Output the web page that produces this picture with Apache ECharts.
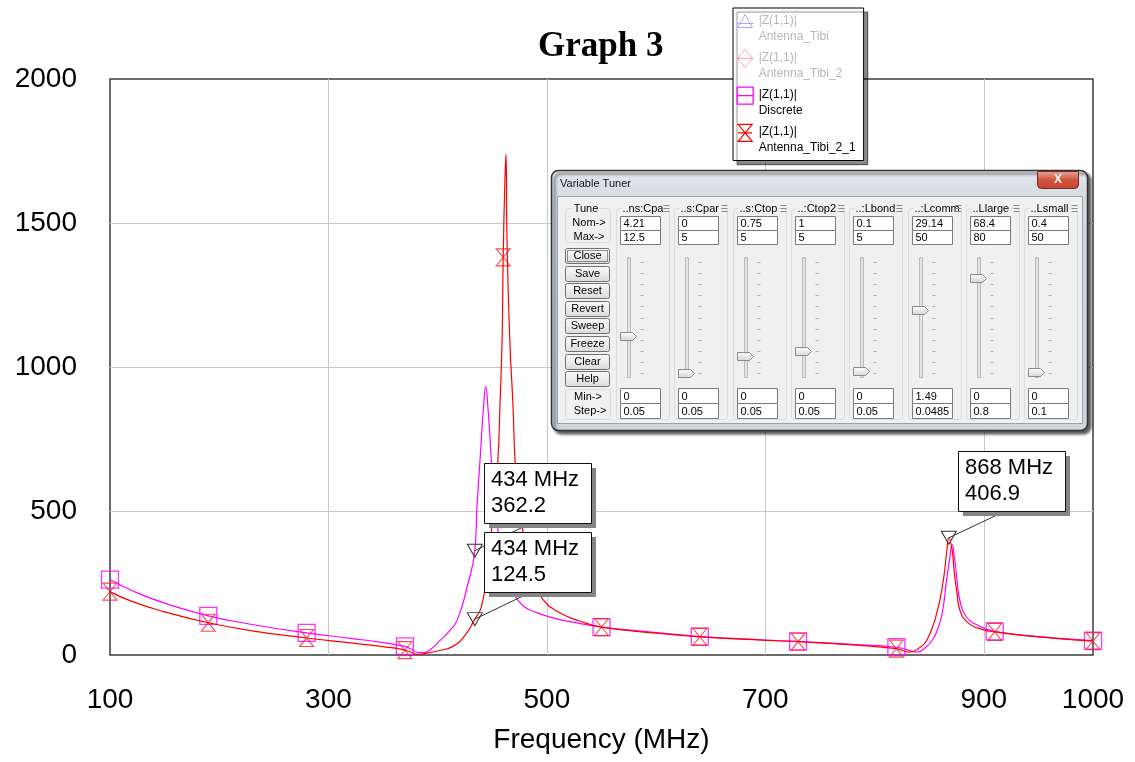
<!DOCTYPE html>
<html>
<head>
<meta charset="utf-8">
<title>Graph 3</title>
<script src="https://cdn.jsdelivr.net/npm/echarts/dist/echarts.min.js"></script>
<style>
html, body { margin: 0; padding: 0; background: #fff; }
#graph { width: 1135px; height: 762px; }
</style>
</head>
<body>
<div id="graph"></div>
<script>
// |Z(1,1)|, frequency in MHz
var freqDiscrete = [100, 120, 150, 190, 230, 280, 320, 350, 370, 376, 382, 387, 393, 402, 410, 418, 427, 434, 436, 439, 442, 444, 446, 448, 450, 454, 460, 466, 473, 480, 490, 506, 525, 550, 600, 640, 700, 730, 780, 820, 830, 839, 846, 853, 858, 862, 866, 869, 871, 873, 875.5, 878, 884, 894, 910, 950, 1000];
var zDiscrete = [262, 224, 180, 136, 106, 77, 58, 43, 30, 20, 9, 8, 18, 50, 80, 122, 237, 362.2, 515, 689, 863, 932, 860, 748, 633, 470, 320, 240, 192, 166, 148, 128, 113, 97, 78, 64, 52, 47, 37, 27, 18, 10, 24, 52, 92, 146, 261, 341, 383, 341, 261, 191, 132, 104, 82, 64, 50];

var freqAnt = [100, 120, 150, 190, 230, 280, 320, 350, 370, 377, 382, 388, 400, 414, 425, 434, 440, 445, 450, 455, 457, 459, 460, 461.5, 462.5, 463.5, 466, 469, 471, 475, 480, 485, 490, 496, 510, 530, 550, 600, 640, 700, 730, 780, 820, 832, 840, 848, 857, 863, 866, 868, 871, 873, 875.5, 878, 884.5, 894, 910, 950, 1000];
var zAnt = [220, 186, 150, 112, 84, 59, 42, 29, 17, 7, 2, 5, 14, 30, 68, 124.5, 167, 285, 460, 668, 863, 1100, 1381, 1640, 1739, 1443, 1096, 863, 668, 510, 385, 300, 245, 195, 150, 118, 97, 76, 63, 51, 46, 35, 22, 10, 22, 52, 146, 261, 355, 406.9, 365, 285, 216, 157, 115, 94, 80, 63, 48];

// trace markers every 90 MHz
var markerFreq = [100, 190, 280, 370, 460, 550, 640, 730, 820, 910, 1000];

// marker readouts
var readoutSeries = ['Discrete', 'Antenna_Tibi_2_1', 'Antenna_Tibi_2_1'];
var readoutFreq = [434, 434, 868];
var readoutValue = [362.2, 124.5, 406.9];

var xLabels = [100, 300, 500, 700, 900, 1000];

// variable tuner window
var tunerVars = ['..ns:Cpa', '..s:Cpar', '..s:Ctop', '..:Ctop2', '..:Lbond', '..:Lcomm', '..Llarge', '..Lsmall'];
var tunerNom = [4.21, 0, 0.75, 1, 0.1, 29.14, 68.4, 0.4];
var tunerMax = [12.5, 5, 5, 5, 5, 50, 80, 50];
var tunerMin = [0, 0, 0, 0, 0, 1.49, 0, 0];
var tunerStep = [0.05, 0.05, 0.05, 0.05, 0.05, 0.0485, 0.8, 0.1];
var tunerButtons = ['Close', 'Save', 'Reset', 'Revert', 'Sweep', 'Freeze', 'Clear', 'Help'];

var chart = echarts.init(document.getElementById('graph'));

function pairs(fs, vs) {
	return fs.map(function(f, i) { return [f, vs[i]]; });
}
function markerData(fs, vs) {
	return markerFreq.map(function(f) { return [f, vs[fs.indexOf(f)]]; });
}
function readoutPoints(name) {
	var out = [];
	for (var i = 0; i < readoutSeries.length; i++) {
		if (readoutSeries[i] === name) out.push({ coord: [readoutFreq[i], readoutValue[i]] });
	}
	return out;
}

var triMarker = 'path://M0,0H15L7.5,13Z';
var bowtie = 'path://M0,0H14L0,17H14Z';

var markPointStyle = function(name) {
	return {
		symbol: triMarker,
		symbolSize: [15, 13],
		itemStyle: { color: 'transparent', borderColor: '#333', borderWidth: 1 },
		label: { show: false },
		data: readoutPoints(name)
	};
};

// legend icons, padded to 17x32 so the glyph sits beside the first text line
var legendIcons = {
	tri: 'path://M0,0L0,0M17,32L17,32M8.5,2L16,15L1,15ZM0,11H17',
	dia: 'path://M0,0L0,0M17,32L17,32M8.5,0L16,9L8.5,18L1,9ZM0,9H17',
	sq: 'path://M0,0L0,0M17,32L17,32M0.5,0.5H16.5V17.5H0.5ZM0.5,9H16.5',
	bow: 'path://M0,0L0,0M17,32L17,32M1.5,0.5H15.5L1.5,17.5H15.5ZM1.5,9H15.5'
};

var axisFont = 'Liberation Sans';
var plain = function(v) { return String(v); };

var option = {
	animation: false,
	backgroundColor: '#fff',
	title: {
		text: 'Graph 3',
		left: 538,
		top: 29,
		padding: 0,
		textStyle: { fontFamily: 'Liberation Serif', fontSize: 35, fontWeight: 'bold', color: '#000' }
	},
	legend: {
		orient: 'vertical',
		left: 733,
		top: 8,
		padding: [4, 8, 4, 3],
		itemWidth: 17,
		itemHeight: 32,
		itemGap: 4,
		backgroundColor: '#fff',
		borderColor: '#000',
		borderWidth: 1,
		borderRadius: 0,
		shadowColor: 'rgba(0,0,0,0.45)',
		shadowBlur: 1,
		shadowOffsetX: 4,
		shadowOffsetY: 4,
		selectedMode: false,
		formatter: function(name) { return '|Z(1,1)|\n' + name; },
		textStyle: { fontFamily: axisFont, fontSize: 12, lineHeight: 16, color: '#000' },
		data: [
			{ name: 'Antenna_Tibi', icon: legendIcons.tri, itemStyle: { color: 'transparent', borderColor: '#a8a8ff', borderWidth: 1 }, textStyle: { color: '#b8b8b8' } },
			{ name: 'Antenna_Tibi_2', icon: legendIcons.dia, itemStyle: { color: 'transparent', borderColor: '#ffa8a8', borderWidth: 1 }, textStyle: { color: '#b8b8b8' } },
			{ name: 'Discrete', icon: legendIcons.sq, itemStyle: { color: 'transparent', borderColor: '#ff00ff', borderWidth: 1.3 } },
			{ name: 'Antenna_Tibi_2_1', icon: legendIcons.bow, itemStyle: { color: 'transparent', borderColor: '#ff0000', borderWidth: 1.2 } }
		]
	},
	grid: {
		left: 110,
		right: 42,
		top: 79,
		bottom: 107,
		show: true,
		borderColor: '#3c3c3c',
		borderWidth: 1.5,
		backgroundColor: 'transparent'
	},
	xAxis: {
		type: 'value',
		min: 100,
		max: 1000,
		name: 'Frequency (MHz)',
		nameLocation: 'middle',
		nameGap: 71,
		nameTextStyle: { fontFamily: axisFont, fontSize: 28, color: '#000' },
		axisLine: { show: false },
		axisTick: { show: false, customValues: xLabels },
		axisLabel: { customValues: xLabels, formatter: plain, fontFamily: axisFont, fontSize: 28, color: '#000', margin: 31 },
		splitLine: { show: true, showMinLine: false, showMaxLine: false, customValues: xLabels, lineStyle: { color: '#c8c8c8', width: 1 } }
	},
	yAxis: {
		type: 'value',
		min: 0,
		max: 2000,
		interval: 500,
		axisLine: { show: false },
		axisTick: { show: false },
		axisLabel: { formatter: plain, fontFamily: axisFont, fontSize: 28, color: '#000', margin: 33 },
		splitLine: { show: true, showMinLine: false, showMaxLine: false, lineStyle: { color: '#c8c8c8', width: 1 } }
	},
	series: [
		{ name: 'Antenna_Tibi', type: 'line', data: [], color: '#a8a8ff' },
		{ name: 'Antenna_Tibi_2', type: 'line', data: [], color: '#ffa8a8' },
		{
			name: 'Discrete',
			type: 'line',
			data: pairs(freqDiscrete, zDiscrete),
			showSymbol: false,
			smooth: 0.5,
			color: '#ff00ff',
			lineStyle: { color: '#ff00ff', width: 1.2 },
			markPoint: markPointStyle('Discrete')
		},
		{
			name: 'Antenna_Tibi_2_1',
			type: 'line',
			data: pairs(freqAnt, zAnt),
			showSymbol: false,
			smooth: 0.5,
			color: '#ff0000',
			lineStyle: { color: '#ff0000', width: 1.2 },
			markPoint: markPointStyle('Antenna_Tibi_2_1')
		},
		{
			name: 'Discrete',
			type: 'scatter',
			data: markerData(freqDiscrete, zDiscrete),
			symbol: 'rect',
			symbolSize: [17, 17],
			clip: false,
			itemStyle: { color: 'transparent', borderColor: '#ff00ff', borderWidth: 1.3 }
		},
		{
			name: 'Antenna_Tibi_2_1',
			type: 'scatter',
			data: markerData(freqAnt, zAnt),
			symbol: bowtie,
			symbolSize: [14, 17],
			clip: false,
			itemStyle: { color: 'transparent', borderColor: '#ff2020', borderWidth: 1.1 }
		}
	]
};

chart.setOption(option);

// ---- readout boxes ----
var boxPos = [[484, 463], [484, 532], [958, 451]];
var boxW = 107, boxH = 60;

function readoutGraphics() {
	var g = [];
	var font = '22px "Liberation Sans", Arial, sans-serif';
	for (var i = 0; i < readoutFreq.length; i++) {
		var p = chart.convertToPixel({ gridIndex: 0 }, [readoutFreq[i], readoutValue[i]]);
		var bx = boxPos[i][0], by = boxPos[i][1];
		g.push({ type: 'line', z: 60, shape: { x1: p[0], y1: p[1], x2: bx + 39, y2: by + 64 }, style: { stroke: '#333', lineWidth: 1 } });
	}
	for (var j = 0; j < readoutFreq.length; j++) {
		var x = boxPos[j][0], y = boxPos[j][1];
		g.push({ type: 'rect', z: 61, shape: { x: x + 5, y: y + 5, width: boxW, height: boxH }, style: { fill: '#858585' } });
		g.push({ type: 'rect', z: 61, shape: { x: x + 0.5, y: y + 0.5, width: boxW, height: boxH }, style: { fill: '#fff', stroke: '#111', lineWidth: 1 } });
		g.push({
			type: 'text', z: 62,
			style: { text: readoutFreq[j] + ' MHz\n' + readoutValue[j], x: x + 7, y: y + 4, font: font, lineHeight: 26, fill: '#000', align: 'left', verticalAlign: 'top' }
		});
	}
	return g;
}

// ---- variable tuner dialog ----
function tunerGraphics() {
	var g = [];
	var Z = 80;
	var font = '11px "Liberation Sans", Arial, sans-serif';
	function R(x, y, w, h, style, r) {
		g.push({ type: 'rect', z: Z, shape: { x: x, y: y, width: w, height: h, r: r || 0 }, style: style });
	}
	function T(text, x, y, align, extra) {
		var s = { text: text, x: x, y: y, font: font, fill: '#000', align: align || 'left', verticalAlign: 'middle' };
		for (var k in extra || {}) s[k] = extra[k];
		g.push({ type: 'text', z: Z, style: s });
	}
	function L(x1, y1, x2, y2, color) {
		g.push({ type: 'line', z: Z, shape: { x1: x1, y1: y1, x2: x2, y2: y2 }, style: { stroke: color, lineWidth: 1 } });
	}
	var frameFill = new echarts.graphic.LinearGradient(0, 0, 0, 1, [
		{ offset: 0, color: '#e4e8ec' }, { offset: 0.12, color: '#d3d9df' }, { offset: 1, color: '#cfd5db' }
	]);
	// frame and client area
	R(551.5, 170.5, 536, 260, { fill: frameFill, stroke: '#333', lineWidth: 1.5, shadowBlur: 3, shadowColor: 'rgba(0,0,0,0.65)', shadowOffsetX: 3, shadowOffsetY: 3 }, 7);
	R(557.5, 196.5, 525, 227, { fill: '#f0f0f0', stroke: '#9aa2aa', lineWidth: 1 });
	T('Variable Tuner', 560, 184, 'left', { fill: '#111' });
	// close button
	R(1037.5, 171.5, 41, 17, { fill: new echarts.graphic.LinearGradient(0, 0, 0, 1, [
		{ offset: 0, color: '#eaa89c' }, { offset: 0.5, color: '#d0533f' }, { offset: 1, color: '#c8442f' }
	]), stroke: '#6e2c22', lineWidth: 1 }, [0, 0, 4, 4]);
	T('X', 1058, 180, 'center', { fill: '#fff', font: 'bold 12px "Liberation Sans", Arial, sans-serif' });

	var box = { fill: 'none', stroke: '#d6dde3', lineWidth: 1 };
	var field = { fill: '#fff', stroke: '#7a7a7a', lineWidth: 1 };
	// Tune / Nom / Max group
	R(565.5, 208.5, 45, 34, box, 3);
	T('Tune', 586, 208.5, 'center', { backgroundColor: '#f0f0f0', padding: [0, 2] });
	T('Nom->', 589, 222.5, 'center');
	T('Max->', 589, 237, 'center');
	// buttons
	var btnFill = new echarts.graphic.LinearGradient(0, 0, 0, 1, [
		{ offset: 0, color: '#f8f8f8' }, { offset: 0.5, color: '#ececec' }, { offset: 1, color: '#d9d9d9' }
	]);
	for (var b = 0; b < tunerButtons.length; b++) {
		var by = Math.round(248 + b * 17.6) + 0.5;
		R(565.5, by, 44, 15, { fill: btnFill, stroke: '#707070', lineWidth: 1 }, 2);
		if (b === 0) R(567.5, by + 2, 40, 11, { fill: 'none', stroke: '#333', lineWidth: 1, lineDash: [1, 1] });
		T(tunerButtons[b], 587.5, by + 7.5, 'center');
	}
	// Min / Step group
	R(565.5, 389.5, 45, 30, box, 3);
	T('Min->', 588, 397, 'center');
	T('Step->', 590, 411, 'center');

	// one column per tuned variable
	for (var i = 0; i < tunerVars.length; i++) {
		var cx = Math.round(616 + i * 58.3) + 0.5;
		var fx = cx + 4;
		R(cx, 208.5, 53, 211, box, 3);
		T(tunerVars[i], cx + 5, 208.5, 'left', { backgroundColor: '#f0f0f0', padding: [0, 1] });
		L(cx + 47, 205.5, cx + 53, 205.5, '#8a8a8a');
		L(cx + 47, 208.5, cx + 53, 208.5, '#8a8a8a');
		L(cx + 47, 211.5, cx + 53, 211.5, '#8a8a8a');
		R(fx, 216.5, 40, 14, field);
		R(fx, 230.5, 40, 14, field);
		T(String(tunerNom[i]), fx + 3, 224, 'left');
		T(String(tunerMax[i]), fx + 3, 238, 'left');
		R(fx, 388.5, 40, 15, field);
		R(fx, 403.5, 40, 15, field);
		T(String(tunerMin[i]), fx + 3, 396.5, 'left');
		T(String(tunerStep[i]), fx + 3, 411.5, 'left');
		// slider track and ticks
		R(fx + 7, 257.5, 3, 120, { fill: '#e4e4e4', stroke: '#bababa', lineWidth: 1 });
		for (var k = 0; k < 11; k++) {
			var ty = Math.round(262 + k * 11.1) + 0.5;
			L(fx + 20, ty, fx + 23, ty, '#b4b4b4');
		}
		// thumb
		var frac = (tunerNom[i] - tunerMin[i]) / (tunerMax[i] - tunerMin[i]);
		var cy = Math.round(373 - frac * 111) + 0.5;
		g.push({
			type: 'polygon', z: Z,
			shape: { points: [[fx, cy - 4], [fx + 12, cy - 4], [fx + 16, cy], [fx + 12, cy + 4], [fx, cy + 4]] },
			style: { fill: new echarts.graphic.LinearGradient(0, 0, 0, 1, [{ offset: 0, color: '#ffffff' }, { offset: 1, color: '#d4d4d4' }]), stroke: '#8a8a8a', lineWidth: 1 }
		});
	}
	return g;
}

chart.setOption({ graphic: readoutGraphics().concat(tunerGraphics()) });
</script>
</body>
</html>
